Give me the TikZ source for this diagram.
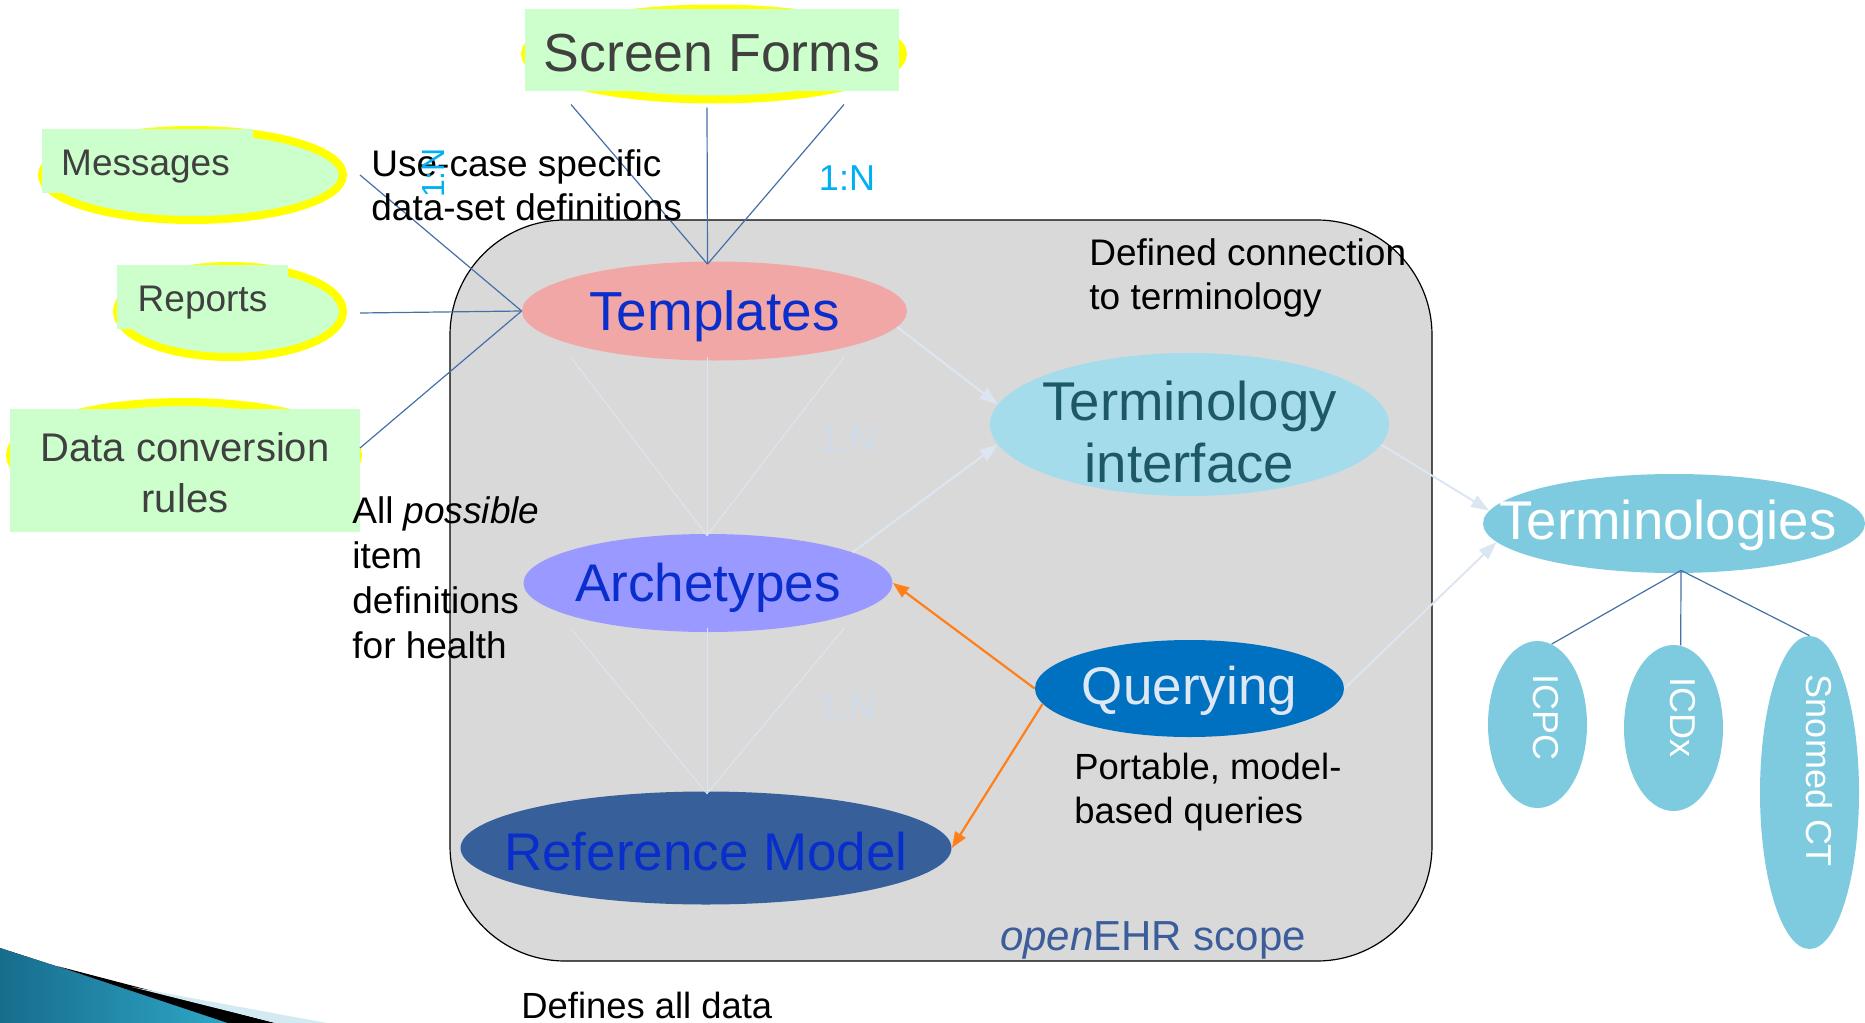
\documentclass[tikz,border=0pt]{standalone}
\usepackage{fontspec}
\setmainfont{Liberation Sans}
\usetikzlibrary{shapes.geometric,arrows.meta,calc}

\definecolor{boxgreen}{HTML}{CCFFCC}
\definecolor{hiyellow}{HTML}{FFFF00}
\definecolor{boxtext}{HTML}{404040}
\definecolor{linkblue}{HTML}{4470A8}
\definecolor{scopegray}{HTML}{D9D9D9}
\definecolor{tplpink}{HTML}{F2A7A7}
\definecolor{archviolet}{HTML}{9999FF}
\definecolor{rmblue}{HTML}{37609A}
\definecolor{titeal}{HTML}{A5DCEB}
\definecolor{tiink}{HTML}{1D5866}
\definecolor{qryblue}{HTML}{0070C0}
\definecolor{qryink}{HTML}{DDE8F4}
\definecolor{termcyan}{HTML}{7ECBDF}
\definecolor{coreink}{HTML}{0A2ECC}
\definecolor{paleline}{HTML}{DCE6F2}
\definecolor{paletext}{HTML}{D0DBEA}
\definecolor{cardcyan}{HTML}{00B0F0}
\definecolor{qorange}{HTML}{FF7F1A}
\definecolor{scopeink}{HTML}{3B5E9B}
\definecolor{swooshdark}{HTML}{176C8C}
\definecolor{swooshlight}{HTML}{2FA8C8}
\definecolor{swooshpale}{HTML}{D4EAF2}

\newcommand{\setfs}[2]{\fontsize{#1}{#2}\selectfont}

\begin{document}
\begin{tikzpicture}[x=0.5pt,y=-0.5pt,
  scopebox/.style={rectangle, rounded corners=57.5pt, draw=black, line width=0.6pt,
    fill=scopegray, inner sep=0pt},
  yellowring/.style={ellipse, draw=hiyellow, line width=4pt, fill=boxgreen, inner sep=0pt},
  greenbox/.style={rectangle, fill=boxgreen, inner sep=0pt},
  boxlabel/.style={text=boxtext, align=center, inner sep=0pt},
  core/.style={ellipse, inner sep=0pt},
  coretext/.style={font=\setfs{26.5}{31}, align=center, inner sep=0pt},
  vtext/.style={rotate=-90, text=white, font=\setfs{18}{22}, inner sep=0pt},
  conn/.style={draw=linkblue, line width=0.6pt},
  paleconn/.style={draw=paleline, line width=0.5pt},
  palearrow/.style={draw=paleline, fill=paleline, line width=1pt,
    -{Triangle[length=9pt,width=6.5pt]}},
  qarrow/.style={draw=qorange, fill=qorange, line width=1.1pt,
    -{Triangle[length=8pt,width=6pt]}},
  note/.style={align=left, anchor=west, inner sep=0pt, text=black},
  ratio/.style={text=cardcyan, font=\setfs{18}{22}, inner sep=0pt},
  faintratio/.style={text=paletext, font=\setfs{18}{22}, inner sep=0pt}]

\useasboundingbox (0,0) rectangle (1865,1023);

% decorative swoosh in the lower left corner
\fill[left color=swooshdark, right color=swooshlight] (0,948) -- (232,1023) -- (0,1023) -- cycle;
\fill[black] (57,966) -- (275,1023) -- (228,1023) -- cycle;
\fill[swooshpale] (132,987) -- (327,1023) -- (276,1023) -- cycle;

% openEHR scope
\node[scopebox, minimum width=491pt, minimum height=370.5pt] (scope) at (941,590.5) {};

% use-case artefacts
\node[yellowring, minimum width=189pt, minimum height=45.5pt] (sfRing) at (714,54) {};
\node[greenbox, minimum width=187pt, minimum height=41pt,
  label={[boxlabel, font=\setfs{26.8}{31}, yshift=-1.5pt]center:Screen Forms}] (sf) at (712,50) {};
\node[yellowring, minimum width=150.5pt, minimum height=45pt] (msgRing) at (192.5,175) {};
\node[greenbox, minimum width=105.5pt, minimum height=32pt,
  label={[boxlabel, font=\setfs{18.5}{22}, xshift=-1pt, yshift=-3pt]center:Messages}] (msg) at (147.5,161) {};
\node[yellowring, minimum width=113pt, minimum height=45.5pt] (repRing) at (230,311.5) {};
\node[greenbox, minimum width=85.5pt, minimum height=32pt,
  label={[boxlabel, font=\setfs{18.5}{22}, yshift=-3pt]center:Reports}] (rep) at (202.5,297) {};
\node[yellowring, minimum width=174pt, minimum height=53pt] (dcrRing) at (184,455) {};
\node[greenbox, minimum width=175pt, minimum height=61.5pt,
  label={[boxlabel, font=\setfs{20}{25.5}, yshift=-1pt]center:Data conversion\\rules}] (dcr) at (185,470.5) {};

% core model layers
\node[core, fill=tplpink, minimum width=192.5pt, minimum height=49.5pt,
  label={[coretext, text=coreink, font=\setfs{27.5}{31}, yshift=-2.5pt]center:Templates}] (tpl) at (714.5,311) {};
\node[core, fill=archviolet, minimum width=184.5pt, minimum height=49pt,
  label={[coretext, text=coreink, yshift=-2.5pt]center:Archetypes}] (arc) at (708,583) {};
\node[core, fill=rmblue, minimum width=245.5pt, minimum height=56.5pt,
  label={[coretext, text=coreink, yshift=-2pt]center:Reference Model}] (rm) at (706,848) {};
\node[core, fill=titeal, minimum width=199.5pt, minimum height=71.5pt,
  label={[coretext, text=tiink, font=\setfs{27.3}{31}, yshift=-3.5pt]center:Terminology\\interface}] (ti) at (1189.5,424.5) {};
\node[core, fill=qryblue, minimum width=154.5pt, minimum height=48.5pt,
  label={[coretext, text=qryink, yshift=-1.2pt]center:Querying}] (qry) at (1189.5,688.5) {};

% external terminologies
\node[core, fill=termcyan, minimum width=191pt, minimum height=49.5pt,
  label={[coretext, text=white, font=\setfs{27.3}{31}, xshift=-3pt, yshift=-1pt]center:Terminologies}] (terms) at (1674,523.5) {};
\node[core, fill=termcyan, minimum width=49.5pt, minimum height=83.5pt] (icpc) at (1537.5,724.5) {};
\node[core, fill=termcyan, minimum width=49.5pt, minimum height=83pt] (icdx) at (1673.5,728) {};
\node[core, fill=termcyan, minimum width=49.5pt, minimum height=156.5pt] (snomed) at (1809.5,792.5) {};
\node[vtext] (icpcT) at (1546,717) {ICPC};
\node[vtext] (icdxT) at (1683,717) {ICDx};
\node[vtext] (snomedT) at (1819,771) {Snomed CT};

% artefacts feeding the templates
\draw[conn] ($(msgRing.east)+(13,0)$) -- (tpl.west);
\draw[conn] ($(repRing.east)+(13,1.5)$) -- (tpl.west);
\draw[conn] ($(dcrRing.east)+(-2,-7)$) -- (tpl.west);
\draw[conn] ($(sfRing.south)+(-143,1)$) -- ($(tpl.north)+(-7,3)$);
\draw[conn] ($(sfRing.south)+(-7,4)$) -- ($(tpl.north)+(-7,3)$);
\draw[conn] ($(sfRing.south)+(130,1)$) -- ($(tpl.north)+(-7,3)$);

% 1:N fans between the layers
\draw[paleconn] ($(tpl.south)+(-143.5,-3.5)$) -- ($(arc.north)+(-1,2)$);
\draw[paleconn] ($(tpl.south)+(-7.5,-3.5)$) -- ($(arc.north)+(-1,2)$);
\draw[paleconn] ($(tpl.south)+(129.5,-3.5)$) -- ($(arc.north)+(-1,2)$);
\draw[paleconn] ($(arc.south)+(-137,-4)$) -- ($(rm.north)+(1,2.5)$);
\draw[paleconn] ($(arc.south)+(-1,-4)$) -- ($(rm.north)+(1,2.5)$);
\draw[paleconn] ($(arc.south)+(136,-4)$) -- ($(rm.north)+(1,2.5)$);

% terminology links
\draw[palearrow] (tpl.-5) -- (ti.174);
\draw[palearrow] (arc.12) -- (ti.186);
\draw[palearrow] (ti.-6) -- (terms.176);
\draw[palearrow] (qry.east) -- (terms.186);

% query paths
\draw[qarrow] (qry.west) -- (arc.east);
\draw[qarrow] (qry.186) -- (rm.east);

% terminology branches
\draw[conn] ($(terms.south)+(7,-3)$) -- (icpc.80);
\draw[conn] ($(terms.south)+(7,-3)$) -- (icdx.85);
\draw[conn] ($(terms.south)+(7,-3)$) -- (snomed.north);

% annotations
\node[note, font=\setfs{18.5}{22}] (useNote) at (371,185) {Use-case specific\\data-set definitions};
\node[note, font=\setfs{18.5}{22}] (termNote) at (1089,278) {Defined connection\\to terminology};
\node[note, font=\setfs{18.5}{22.5}] (itemNote) at (352,578) {All \textit{possible}\\item\\definitions\\for health};
\node[note, font=\setfs{18.2}{22}] (queryNote) at (1074,792) {Portable, model-\\based queries};
\node[note, font=\setfs{18.2}{22}] (dataNote) at (521,1005) {Defines all data};
\node[inner sep=0pt, text=scopeink, font=\setfs{21}{25}] (scopeLabel) at (1153,940) {\textit{open}EHR scope};

% cardinalities
\node[ratio] (ratioTop) at (847,178) {1:N};
\node[ratio, rotate=90, font=\setfs{16}{20}] (ratioSide) at (433,173) {1:N};
\node[faintratio] (ratioMid) at (847,439) {1:N};
\node[faintratio] (ratioLow) at (847,706) {1:N};

\end{tikzpicture}
\end{document}
